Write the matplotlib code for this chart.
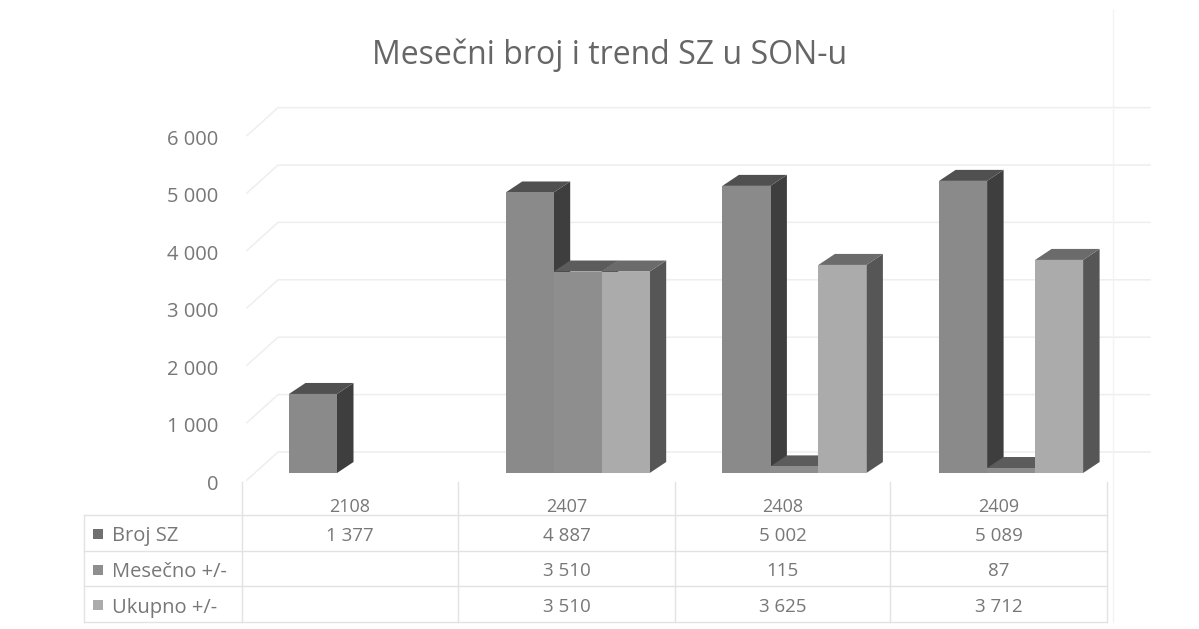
import numpy as np
import matplotlib
matplotlib.use("Agg")
import matplotlib.pyplot as plt
from matplotlib.lines import Line2D
from matplotlib.patches import Polygon

title = "Mesečni broj i trend SZ u SON-u"
categories = ["2108", "2407", "2408", "2409"]
series_names = ["Broj SZ", "Mesečno +/-", "Ukupno +/-"]
broj_sz = [1377, 4887, 5002, 5089]
mesecno = [None, 3510, 115, 87]
ukupno = [None, 3510, 3625, 3712]
y_ticks = [0, 1000, 2000, 3000, 4000, 5000, 6000]

W, H = 1199, 629
PX_X = 216.7          # pixels per category
PX_Y = 0.0574         # pixels per unit
X0, Y0 = 361.0, 473.0 # pixel position of first category / zero
BW = 48.0 / PX_X
DX, DY = 16.5 / PX_X, 11 / PX_Y          # bar depth
WX = 31 / PX_X

front = ["#8a8a8a", "#8e8e8e", "#ababab"]
side = ["#3e3e3e", "#484848", "#565656"]
top = ["#505050", "#5c5c5c", "#6b6b6b"]
text_c = "#777777"
grid_c = "#eeeeee"
line_c = "#e2e2e2"

plt.rcParams["font.family"] = ["Open Sans", "DejaVu Sans"]
fig = plt.figure(figsize=(W / 100, H / 100), dpi=100, facecolor="white")
ax = fig.add_axes([0, 0, 1, 1])
ax.set_xlim(-X0 / PX_X, (W - X0) / PX_X)
ax.set_ylim(-(H - Y0) / PX_Y, Y0 / PX_Y)
ax.axis("off")


def fmt(v):
    return "" if v is None else f"{v:,}".replace(",", " ")


# back wall gridlines with diagonals on the side wall
x_left = (247 - X0) / PX_X
x_back = x_left + WX
x_right = (1150 - X0) / PX_X
for t in y_ticks:
    front_off = -7 / PX_Y
    back_off = 21 / PX_Y
    ax.plot([x_left, x_back, x_right],
            [t + front_off, t + back_off, t + back_off],
            color=grid_c, lw=1.1, zorder=1)
    ax.text(x_left - 29 / PX_X, t - 9 / PX_Y, fmt(t), ha="right",
            va="center_baseline", fontsize=14.5, color=text_c, zorder=5)


def bar3d(x0, v, i):
    x1 = x0 + BW
    ax.bar(x0, v, width=BW, align="edge", color=front[i], lw=0, zorder=4)
    ax.add_patch(Polygon([(x1, 0), (x1 + DX, DY), (x1 + DX, v + DY), (x1, v)],
                         facecolor=side[i], lw=0, zorder=3))
    ax.add_patch(Polygon([(x0, v), (x0 + DX, v + DY), (x1 + DX, v + DY), (x1, v)],
                         facecolor=top[i], lw=0, zorder=3))


# painter's order: left to right so later bars overlay earlier sides
for c in range(len(categories)):
    values = [broj_sz[c], mesecno[c], ukupno[c]]
    for i, v in enumerate(values):
        if v is not None:
            bar3d(c - 1.5 * BW + i * BW, v, i)

fig.text(610 / W, 1 - 55 / H, title, ha="center", va="center",
         fontsize=23, color="#666666")

# data table
col_x = [242, 458, 675, 890, 1107]
row_y = [482, 515, 551, 586, 622]
left_x = 84


def fline(xs, ys, color=line_c):
    fig.add_artist(Line2D([x / W for x in xs], [1 - y / H for y in ys],
                          color=color, lw=1.0))


for y in row_y[1:]:
    fline([left_x, col_x[-1]], [y, y])
fline([left_x, left_x], [row_y[1], row_y[4]])
for x in col_x:
    fline([x, x], [row_y[0], row_y[4]])
fline([1113, 1113], [10, 622], color="#f3f3f3")

cx = [(col_x[k] + col_x[k + 1]) / 2 for k in range(4)]
for k, cat in enumerate(categories):
    fig.text(cx[k] / W, 1 - 505 / H, cat, ha="center", va="center_baseline",
             fontsize=13, color=text_c)

rows = [broj_sz, mesecno, ukupno]
key_c = ["#707070", "#8e8e8e", "#ababab"]
for r, (name, vals) in enumerate(zip(series_names, rows)):
    yc = (row_y[r + 1] + row_y[r + 2]) / 2 + 1
    fig.text(112 / W, 1 - yc / H, name, ha="left", va="center_baseline",
             fontsize=14.5, color=text_c)
    fig.patches.append(plt.Rectangle((93 / W, 1 - (yc + 5) / H), 10 / W, 10 / H,
                                     transform=fig.transFigure,
                                     facecolor=key_c[r], lw=0))
    for k, v in enumerate(vals):
        fig.text(cx[k] / W, 1 - yc / H, fmt(v), ha="center", va="center_baseline",
                 fontsize=13.5, color=text_c)

fig.savefig("out.png", dpi=100, facecolor="white")
